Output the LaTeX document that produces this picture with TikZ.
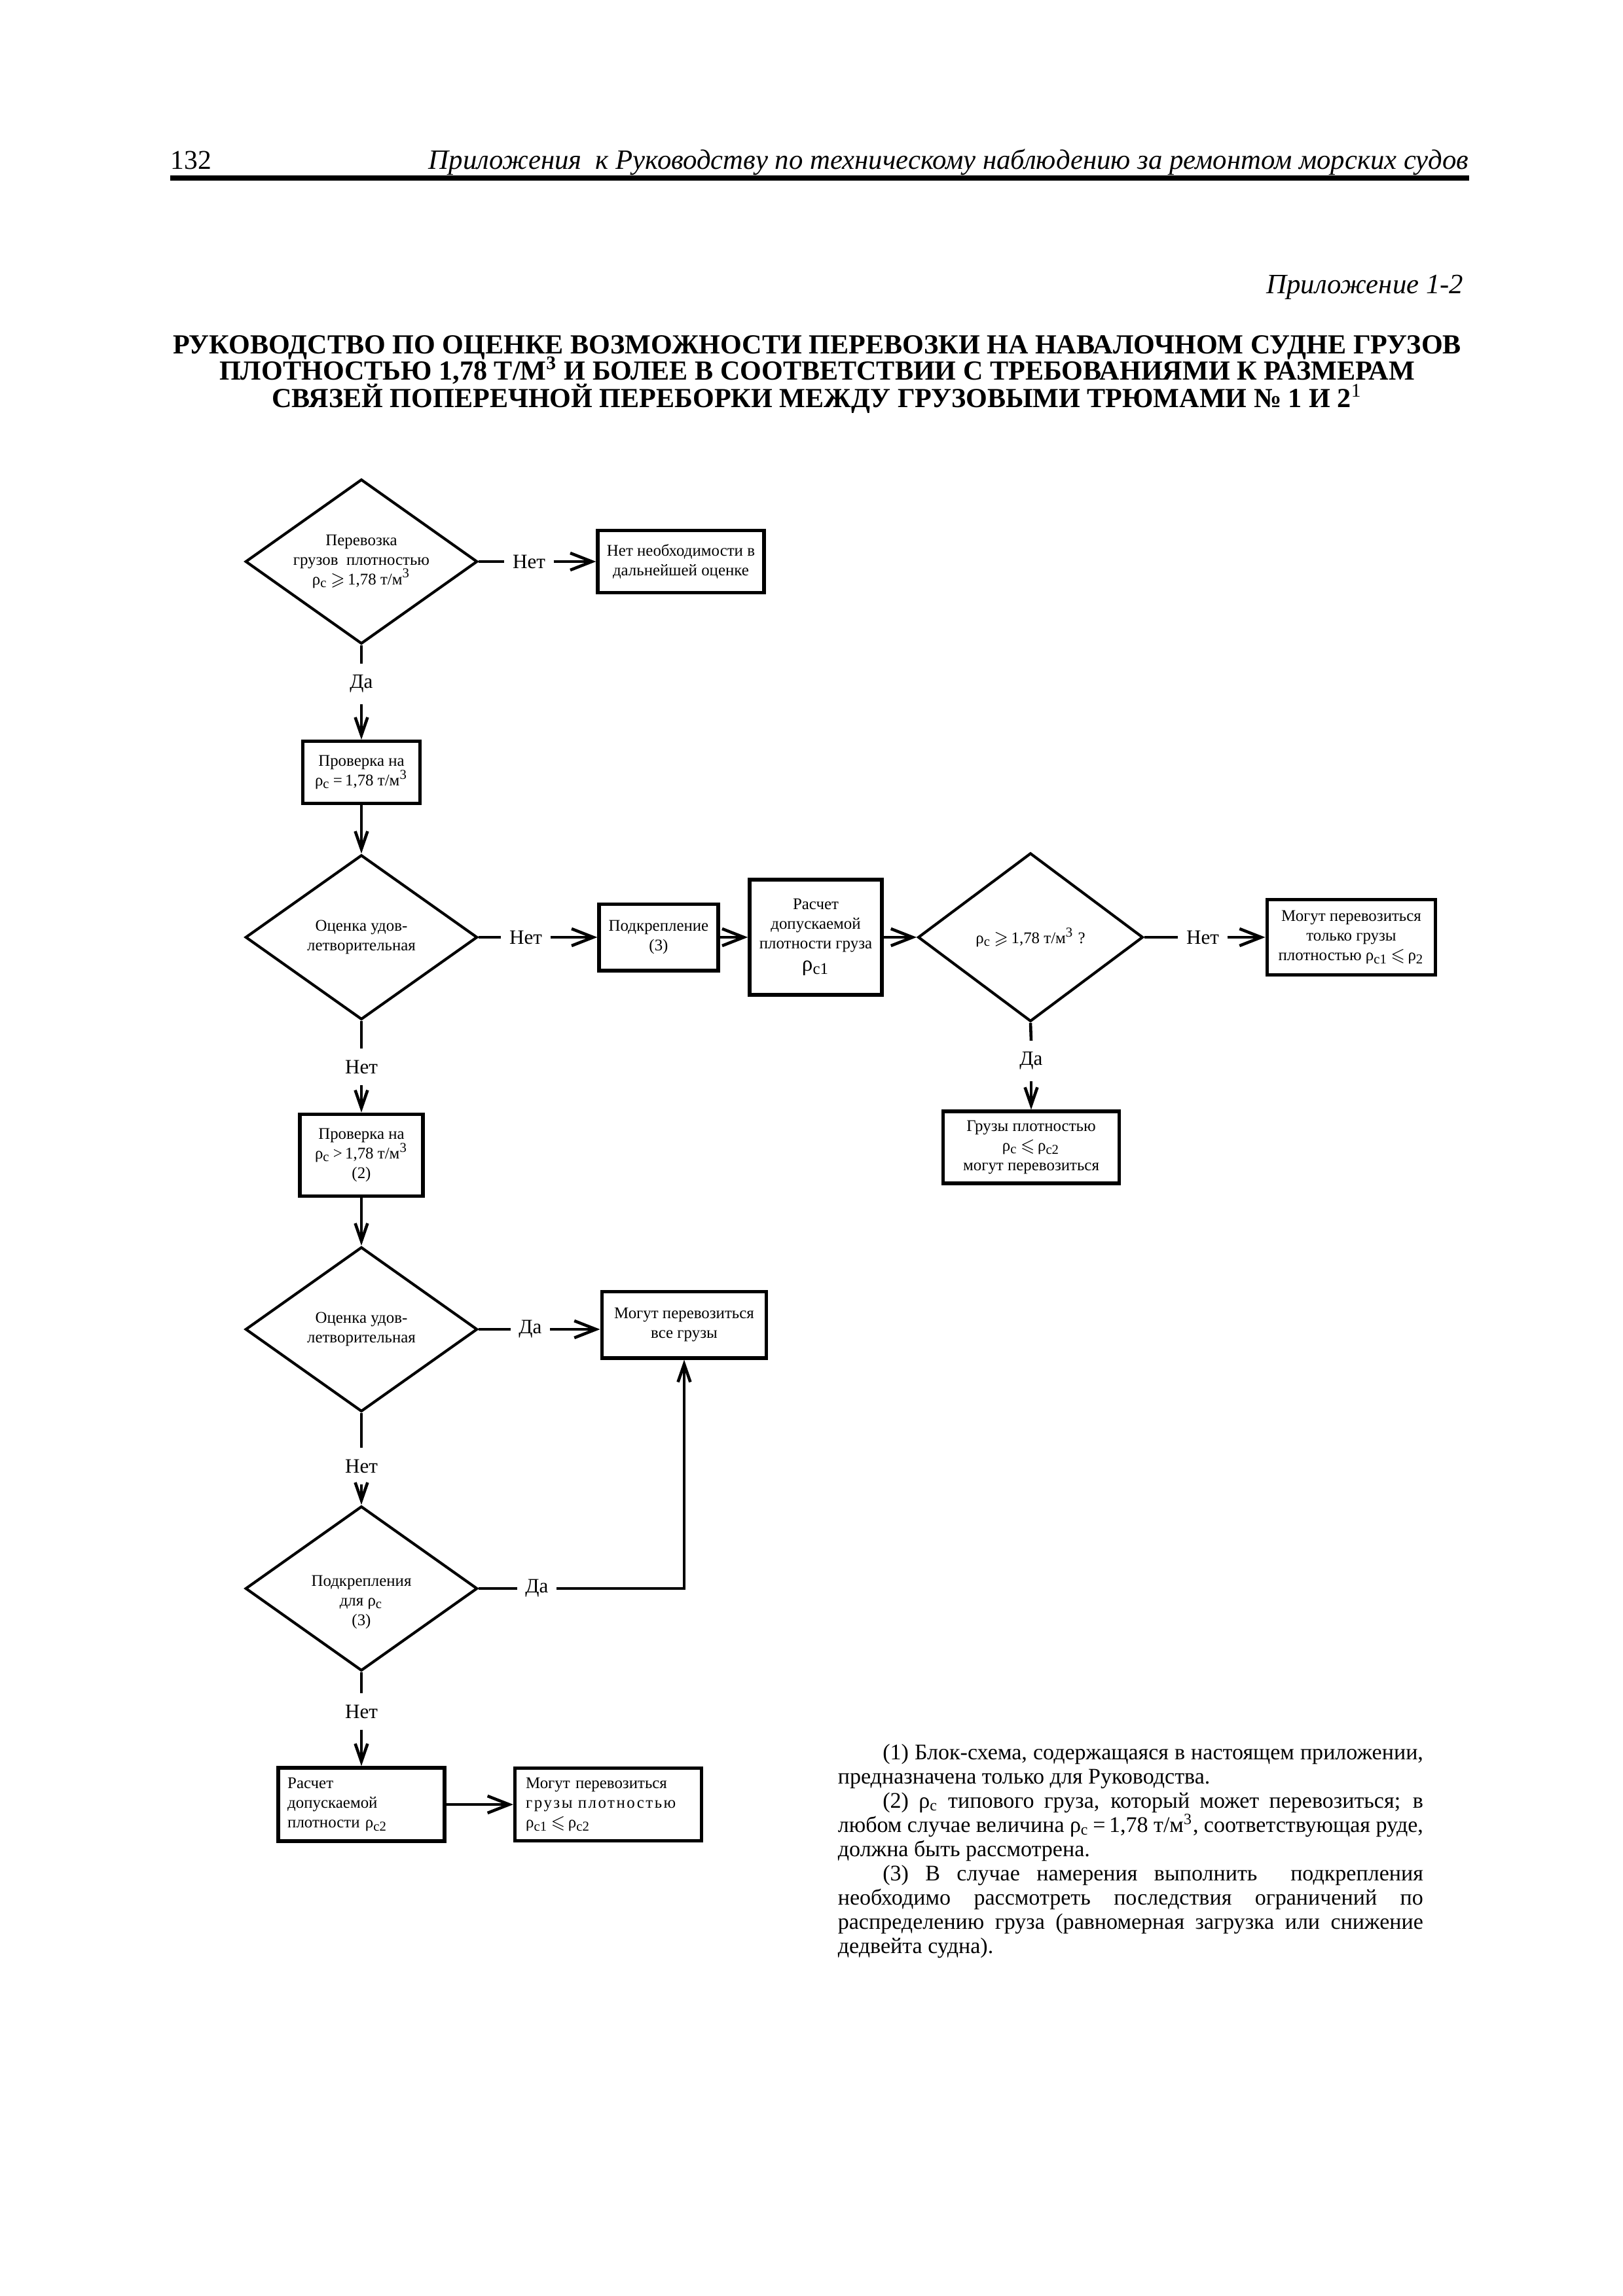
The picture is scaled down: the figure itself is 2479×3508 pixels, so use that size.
\documentclass[tikz,border=0pt]{standalone}
\usepackage{amssymb}
\usepackage{fontspec}
\setmainfont{Liberation Serif}
\usetikzlibrary{shapes.geometric,arrows.meta}

\newcommand{\rhoc}{ρ\textsubscript{c}}
\newcommand{\gsl}{\ensuremath{\geqslant}}
\newcommand{\lsl}{\ensuremath{\leqslant}}
\newcommand{\tmcube}{т/м\textsuperscript{3}}

\tikzset{
  decision/.style={diamond, draw, line width=1pt, inner sep=0pt, align=center, shape aspect=1.41,
    minimum width=30mm, minimum height=21.3mm, font=\fontsize{6}{7.2}\selectfont},
  block/.style={rectangle, draw, line width=1.3pt, inner sep=0.6mm, align=center,
    font=\fontsize{6}{7.2}\selectfont},
  answer/.style={inner xsep=1mm, inner ysep=1.4mm, font=\fontsize{7.5}{9}\selectfont},
  flow/.style={line width=1.1pt},
  flowarrow/.style={flow, -{Straight Barb[length=2.8mm,width=2.2mm]}},
  downarrow/.style={flow, -{Straight Barb[length=2.3mm,width=1.6mm]}},
  headline/.style={font=\fontsize{10.3}{12}\selectfont\itshape, inner sep=0pt},
  titleline/.style={font=\fontsize{10.15}{10}\selectfont\bfseries, inner sep=0pt, anchor=base}
}

\begin{document}
\begin{tikzpicture}[x=0.0846667mm,y=-0.0846667mm]
  \useasboundingbox (0,0) rectangle (2479,3508);

  % page header
  \node[headline, font=\fontsize{10}{12}\selectfont, anchor=base west] (pnum) at (260,258) {132};
  \node[headline, anchor=base east] (head) at (2244,258)
    {Приложения\ \ к Руководству по техническому наблюдению за ремонтом морских судов};
  \draw[line width=0.6mm] (260,272) -- (2244,272);
  \node[headline, anchor=base east] (appx) at (2236,448) {Приложение 1-2};

  % title
  \node[titleline] (t1) at (1248,540) {РУКОВОДСТВО ПО ОЦЕНКЕ ВОЗМОЖНОСТИ ПЕРЕВОЗКИ НА НАВАЛОЧНОМ СУДНЕ ГРУЗОВ};
  \node[titleline] (t2) at (1248,580) {ПЛОТНОСТЬЮ 1,78 Т/М\textsuperscript{3} И БОЛЕЕ В СООТВЕТСТВИИ С ТРЕБОВАНИЯМИ К РАЗМЕРАМ};
  \node[titleline] (t3) at (1248,622) {СВЯЗЕЙ ПОПЕРЕЧНОЙ ПЕРЕБОРКИ МЕЖДУ ГРУЗОВЫМИ ТРЮМАМИ № 1 И 2\textsuperscript{\mdseries 1}};

  % first check
  \node[decision] (d1) at (552,858) {Перевозка\\грузов\ \ плотностью\\\rhoc\,\gsl\,1,78 \tmcube};
  \node[answer] (no1) at (808,858) {Нет};
  \node[block, minimum width=21.5mm, minimum height=8mm] (b1) at (1040,858)
    {Нет необходимости в\\дальнейшей оценке};
  \node[answer] (yes1) at (552,1045) {Да};
  \node[block, minimum width=15.2mm, minimum height=8mm] (b2) at (552,1180)
    {Проверка на\\\rhoc\,=\,1,78 \tmcube};

  % second row
  \node[decision] (d2) at (552,1432) {Оценка удов-\\летворительная};
  \node[answer] (no2) at (803,1432) {Нет};
  \node[block, minimum width=15.4mm, minimum height=8.6mm] (b3) at (1006,1432)
    {Подкрепление\\(3)};
  \node[block, minimum width=17.1mm, minimum height=14.9mm] (b4) at (1246,1432)
    {Расчет\\допускаемой\\плотности груза\\[0.4mm]{\fontsize{8}{9}\selectfont ρ\textsubscript{c1}}};
  \node[decision, minimum width=29.1mm, minimum height=21.8mm] (d3) at (1574,1432)
    {\rhoc\,\gsl\,1,78 \tmcube\ ?};
  \node[answer] (no3) at (1837,1432) {Нет};
  \node[block, minimum width=21.8mm, minimum height=9.7mm] (b5) at (2064,1432)
    {Могут перевозиться\\только грузы\\плотностью ρ\textsubscript{c1}\,\lsl\,ρ\textsubscript{2}};
  \node[answer] (yes3) at (1575,1621) {Да};
  \node[block, minimum width=22.8mm, minimum height=9.3mm] (b6) at (1575,1753)
    {Грузы плотностью\\\rhoc\,\lsl\,ρ\textsubscript{c2}\\могут перевозиться};

  % lower column
  \node[answer] (no4) at (552,1630) {Нет};
  \node[block, minimum width=15.9mm, minimum height=10.6mm] (b7) at (552,1765)
    {Проверка на\\\rhoc\,>\,1,78 \tmcube\\(2)};
  \node[decision] (d4) at (552,2031) {Оценка удов-\\летворительная};
  \node[answer] (yes4) at (810,2031) {Да};
  \node[block, minimum width=21.3mm, minimum height=8.6mm] (b8) at (1045,2024)
    {Могут перевозиться\\все грузы};
  \node[answer] (no5) at (552,2240) {Нет};
  \node[decision] (d5) at (552,2427) {\\[2.4mm]Подкрепления\\для \rhoc\\(3)};
  \node[answer] (yes5) at (820,2427) {Да};
  \node[answer] (no6) at (552,2615) {Нет};
  \node[block, align=left, text width=19.1mm, inner xsep=1.2mm, minimum height=9.5mm] (b9) at (552,2757)
    {Расчет\\допускаемой\\плотности ρ\textsubscript{c2}};
  \node[block, align=left, text width=21.3mm, inner xsep=1.4mm, minimum height=9.4mm] (b10) at (929,2757)
    {Могут перевозиться\\\makebox[21.3mm][s]{\addfontfeature{LetterSpace=10}грузы плотностью}\\ρ\textsubscript{c1}\,\lsl\,ρ\textsubscript{c2}};

  % connectors
  \draw[flow] (d1.east) -- (no1.west);
  \draw[flowarrow] (no1.east) -- (b1.west);
  \draw[flow] (d1.south) -- (yes1.north);
  \draw[downarrow] (yes1.south) -- (b2.north);
  \draw[downarrow] (b2.south) -- (d2.north);
  \draw[flow] (d2.east) -- (no2.west);
  \draw[flowarrow] (no2.east) -- (b3.west);
  \draw[flowarrow] (b3.east) -- (b4.west);
  \draw[flowarrow] (b4.east) -- (d3.west);
  \draw[flow] (d3.east) -- (no3.west);
  \draw[flowarrow] (no3.east) -- (b5.west);
  \draw[flow] (d3.south) -- (yes3.north);
  \draw[downarrow] (yes3.south) -- (b6.north);
  \draw[flow] (d2.south) -- (no4.north);
  \draw[downarrow] (no4.south) -- (b7.north);
  \draw[downarrow] (b7.south) -- (d4.north);
  \draw[flow] (d4.east) -- (yes4.west);
  \draw[flowarrow] (yes4.east) -- (yes4.east -| b8.west);
  \draw[flow] (d4.south) -- (no5.north);
  \draw[downarrow] (no5.south) -- (d5.north);
  \draw[flow] (d5.east) -- (yes5.west);
  \draw[downarrow] (yes5.east) -| (b8.south);
  \draw[flow] (d5.south) -- (no6.north);
  \draw[downarrow] (no6.south) -- (b9.north);
  \draw[flowarrow] (b9.east) -- (b10.west);

  % notes
  \node[anchor=north west, inner sep=0pt, text width=75.7mm, align=justify,
        font=\fontsize{8.2}{8.9}\selectfont] (notes) at (1279,2664)
    {\hspace*{5.8mm}(1) Блок-схема, содержащаяся в настоящем приложении,\linebreak
     предназначена только для Руководства.\par
     \hspace*{5.8mm}(2) \rhoc{} типового груза, который может перевозиться; в\linebreak
     любом случае величина \rhoc\,=\,1,78 \tmcube, соответствующая руде,\linebreak
     должна быть рассмотрена.\par
     \hspace*{5.8mm}(3) В случае намерения выполнить\ \ подкрепления\linebreak
     необходимо рассмотреть последствия ограничений по\linebreak
     распределению груза (равномерная загрузка или снижение\linebreak
     дедвейта судна).};
\end{tikzpicture}
\end{document}
